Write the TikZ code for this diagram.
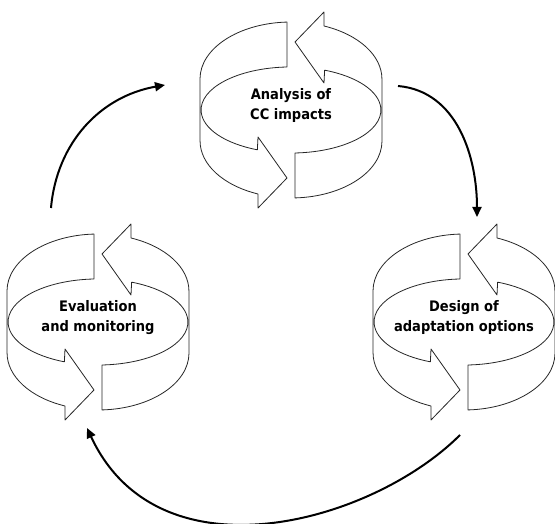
\documentclass[tikz,border=0pt]{standalone}
\usepackage{fontspec}
\newfontfamily\cyclefont{DejaVu Sans Condensed}
\usetikzlibrary{calc, arrows.meta}

\tikzset{
  ring/.style={draw=black!85, fill=white, line width=0.8pt, line join=round},
  flow/.style={line width=2pt, -{Triangle[length=10pt, width=9pt]}},
  stage/.style={align=center, inner sep=0pt,
    font=\cyclefont\bfseries\fontsize{14.5}{20}\selectfont},
  % two bent arrows round a drum
  cyclering/.pic={
    \foreach \r in {0,180}{
      \draw[ring, rotate=\r] (-4,88) -- (-4,43)
        arc[start angle=92.6, end angle=248, x radius=90, y radius=43]
        -- (-33,-27) -- (-4,-68) -- (-33,-98) -- (-33,-84)
        arc[start angle=248.7, end angle=180, x radius=91, y radius=57]
        -- (-91,31)
        arc[start angle=180, end angle=92.5, x radius=91, y radius=57]
        -- cycle;
    }
  }
}

\begin{document}
\begin{tikzpicture}[x=1pt, y=1pt]
  \useasboundingbox (0,0) rectangle (555,524);

  \pic at (291,414) {cyclering};
  \pic at (98,202) {cyclering};
  \pic at (464,202) {cyclering};

  \node[stage] (analysis) at (291,418) {Analysis of\\CC impacts};
  \node[stage] (evaluation) at (98,206) {Evaluation\\and monitoring};
  \node[stage] (design) at (464,206) {Design of\\adaptation options};

  % loop between the stages
  \draw[flow] ($(evaluation)+(-47,110)$) to[out=85, in=190] ($(analysis)+(-126,21)$);
  \draw[flow] ($(analysis)+(107,20)$) to[out=-5, in=90] ($(design)+(13,101)$);
  \draw[flow] ($(design)+(-4,-117)$)
    .. controls +(225:125) and +(-65:170) .. ($(evaluation)+(-11,-110)$);
\end{tikzpicture}
\end{document}
